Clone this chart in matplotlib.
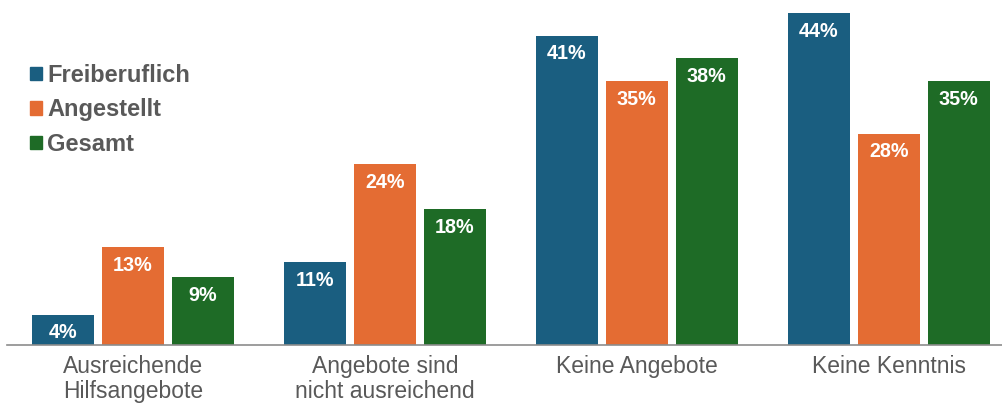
import numpy as np
import matplotlib.pyplot as plt
from matplotlib.patches import Patch

plt.rcParams['font.family'] = ['Liberation Sans', 'DejaVu Sans']

categories = ['Ausreichende\nHilfsangebote', 'Angebote sind\nnicht ausreichend',
              'Keine Angebote', 'Keine Kenntnis']
series = ['Freiberuflich', 'Angestellt', 'Gesamt']
freiberuflich = [4, 11, 41, 44]
angestellt = [13, 24, 35, 28]
gesamt = [9, 18, 38, 35]
colors = ['#1a5e80', '#e46c33', '#1e6b26']
gray = '#595959'

fig = plt.figure(figsize=(10.02, 4.05), dpi=100)
ax = fig.add_axes([0.007, 0.148, 0.993, 0.838])

x = np.arange(len(categories))
width = 0.246
offset = 0.278
for i, (vals, col) in enumerate(zip([freiberuflich, angestellt, gesamt], colors)):
    pos = x + (i - 1) * offset
    ax.bar(pos, vals, width, color=col, zorder=2)
    for p, v in zip(pos, vals):
        ax.text(p, v - 2.4, f'{v}%', ha='center', va='center', color='white',
                fontsize=14.2, fontweight='bold')

ax.set_xlim(-0.5, 3.45)
ax.set_ylim(0, 45)
ax.set_xticks(x)
ax.set_xticklabels(categories, fontsize=16.5, color=gray, linespacing=1.12)
ax.tick_params(axis='x', length=0, pad=7)
ax.set_yticks([])
for s in ['top', 'right', 'left']:
    ax.spines[s].set_visible(False)
ax.spines['bottom'].set_color('#8c8c8c')
ax.spines['bottom'].set_linewidth(1.2)

handles = [Patch(color=c, label=s) for s, c in zip(series, colors)]
leg = ax.legend(handles=handles, loc='upper left', bbox_to_anchor=(0.021, 0.865),
                bbox_transform=fig.transFigure, frameon=False, fontsize=17,
                handlelength=0.5, handleheight=0.5, handletextpad=0.2,
                labelspacing=0.48, borderaxespad=0)
for t in leg.get_texts():
    t.set_color(gray)
    t.set_fontweight('bold')

fig.savefig('out.png', dpi=100)
